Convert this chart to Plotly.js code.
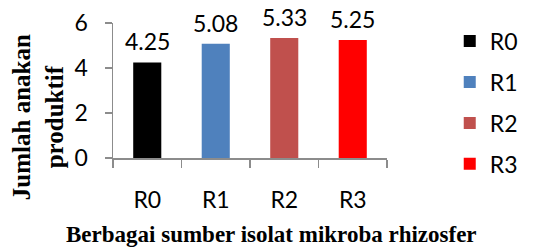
<!DOCTYPE html>
<html>
<head>
<meta charset="utf-8">
<script src="https://cdn.plot.ly/plotly-3.0.1.min.js"></script>
<style>
  html, body { margin: 0; padding: 0; background: #ffffff; }
  #chart { width: 535px; height: 249px; }
</style>
</head>
<body>
<div id="chart"></div>
<script>
const categories = ['R0', 'R1', 'R2', 'R3'];
const values = [4.25, 5.08, 5.33, 5.25];
const valueLabels = ['4.25', '5.08', '5.33', '5.25'];
const seriesColors = ['#000000', '#4F81BD', '#C0504D', '#FF0000'];
const yTickValues = [0, 2, 4, 6];
const xAxisTitle = 'Berbagai sumber isolat mikroba rhizosfer';
const yAxisTitle = 'Jumlah anakan<br>produktif';

const sansFont = 'Lato, "Open Sans", sans-serif';
const serifFont = '"Liberation Serif", "Times New Roman", serif';

const traces = categories.map((c, i) => ({
  type: 'bar',
  x: [c],
  y: [values[i]],
  name: c,
  legendgroup: c,
  width: 0.41,
  marker: { color: seriesColors[i], line: { width: 0 } },
  hoverinfo: 'skip'
}));

const valueAnnotations = categories.map((c, i) => ({
  text: valueLabels[i],
  xref: 'x', yref: 'y',
  x: c, y: values[i],
  xanchor: 'center', yanchor: 'bottom',
  yshift: 5,
  showarrow: false,
  font: { family: sansFont, size: 23, color: '#000000' }
}));

const layout = {
  width: 535,
  height: 249,
  margin: { l: 113, r: 112, t: 23, b: 91, pad: 0 },
  paper_bgcolor: '#ffffff',
  plot_bgcolor: '#ffffff',
  barmode: 'overlay',
  showlegend: true,
  font: { family: sansFont, size: 23, color: '#000000' },
  xaxis: {
    type: 'category',
    categoryorder: 'array',
    categoryarray: categories,
    showline: true,
    linecolor: '#8C8C8C',
    linewidth: 1.5,
    ticks: 'outside',
    tickson: 'boundaries',
    ticklen: 8,
    tickwidth: 1.5,
    tickcolor: '#8C8C8C',
    ticklabelstandoff: 21,
    showgrid: false,
    zeroline: false,
    tickfont: { family: sansFont, size: 23, color: '#000000' },
    fixedrange: true
  },
  yaxis: {
    range: [0, 6],
    tickvals: yTickValues,
    ticktext: yTickValues.map(String),
    showline: true,
    linecolor: '#8C8C8C',
    linewidth: 1.5,
    ticks: 'outside',
    ticklen: 7,
    tickwidth: 1.5,
    tickcolor: '#8C8C8C',
    ticklabelstandoff: 12,
    showgrid: false,
    zeroline: false,
    tickfont: { family: sansFont, size: 23, color: '#000000' },
    fixedrange: true
  },
  legend: {
    x: 1.229,
    xanchor: 'left',
    y: 1.025,
    yanchor: 'top',
    maxheight: 240,
    traceorder: 'grouped',
    tracegroupgap: 8,
    font: { family: sansFont, size: 23, color: '#000000' },
    bgcolor: 'rgba(0,0,0,0)',
    borderwidth: 0
  },
  annotations: valueAnnotations.concat([
    {
      text: '<b>' + xAxisTitle + '</b>',
      xref: 'paper', yref: 'paper',
      x: (292 - 113) / 310, y: -0.462,
      xanchor: 'center', yanchor: 'top',
      showarrow: false,
      font: { family: serifFont, size: 23, color: '#000000' }
    },
    {
      text: '<b>' + yAxisTitle + '</b>',
      xref: 'paper', yref: 'paper',
      x: -0.275, y: 0.3,
      xanchor: 'center', yanchor: 'middle',
      textangle: -90,
      showarrow: false,
      font: { family: serifFont, size: 25, color: '#000000' }
    }
  ])
};

Plotly.newPlot('chart', traces, layout, { displayModeBar: false, staticPlot: true });
</script>
</body>
</html>
